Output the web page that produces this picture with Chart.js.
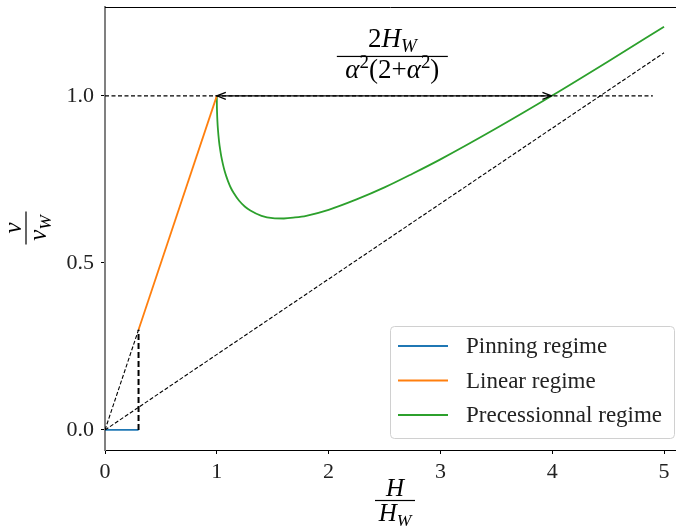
<!DOCTYPE html>
<html lang="en">
<head>
  <meta charset="UTF-8">
  <title>Domain wall velocity</title>
  <style>
    body { margin: 0; background: #fff; }
    #chartBox { width: 676px; height: 526px; }
  </style>
</head>
<body>
  <div id="chartBox">
    <canvas id="myChart" width="676" height="526"></canvas>
  </div>

  <script src="https://cdn.jsdelivr.net/npm/chart.js"></script>
  <script>
    // data (H/H_W, v/v_W)
    const pinH = [0, 0.3];
    const pinV = [0, 0];
    const linH = [0.3, 1];
    const linV = [0.3, 1];
    const precH = [1, 1.0005, 1.001, 1.002, 1.005, 1.01, 1.02, 1.03, 1.04, 1.055, 1.07, 1.085, 1.1, 1.125, 1.15, 1.2, 1.25, 1.3, 1.4, 1.5, 1.6, 1.7, 1.8, 2.0, 2.25, 2.5, 2.75, 3.0, 3.5, 4.0, 4.5, 5.0];
    const precV = [1, 0.976, 0.966, 0.953, 0.927, 0.900, 0.864, 0.839, 0.819, 0.795, 0.775, 0.759, 0.745, 0.725, 0.710, 0.686, 0.669, 0.657, 0.641, 0.634, 0.633, 0.636, 0.641, 0.659, 0.690, 0.726, 0.767, 0.810, 0.903, 1.001, 1.103, 1.207];
    const asymH = [0, 5];
    const asymV = [0, 1.129];
    const walkerH = [0, 4.9];
    const walkerV = [1, 1];
    const depDiagH = [0, 0.3];
    const depDiagV = [0, 0.3];
    const depVertH = [0.3, 0.3];
    const depVertV = [0, 0.3];
    const arrowH = [1, 3.993];
    const arrowV = [1, 1];
    const annotPos = [2.57, 1.118];
    const xTicks = [0, 1, 2, 3, 4, 5];
    const yTicks = [0, 0.5, 1.0];
    const legendLabels = ['Pinning regime', 'Linear regime', 'Precessionnal regime'];

    const SERIF = '"Liberation Serif", "DejaVu Serif", serif';

    function pts(xs, ys) {
      return xs.map((x, i) => ({ x: x, y: ys[i] }));
    }

    function dashed(xs, ys, w, dash) {
      return {
        data: pts(xs, ys),
        borderColor: '#000',
        borderWidth: w,
        borderDash: dash,
        pointRadius: 0,
        fill: false,
        isHelper: true
      };
    }

    // draw a run of text pieces: {t, i: italic, sub, sup}
    function richWidth(ctx, parts, size) {
      let w = 0;
      parts.forEach(p => {
        const s = (p.sub || p.sup) ? size * 0.7 : size;
        ctx.font = (p.i ? 'italic ' : '') + s + 'px ' + SERIF;
        w += ctx.measureText(p.t).width;
      });
      return w;
    }
    function drawRich(ctx, parts, cx, y, size) {
      let x = cx - richWidth(ctx, parts, size) / 2;
      ctx.textAlign = 'left';
      ctx.textBaseline = 'alphabetic';
      parts.forEach(p => {
        const s = (p.sub || p.sup) ? size * 0.7 : size;
        ctx.font = (p.i ? 'italic ' : '') + s + 'px ' + SERIF;
        let dy = 0;
        if (p.sub) dy = size * 0.2;
        if (p.sup) dy = -size * 0.38;
        ctx.fillText(p.t, x, y + dy);
        x += ctx.measureText(p.t).width;
      });
    }
    function drawFrac(ctx, num, den, cx, cy, size, barW) {
      ctx.fillStyle = '#000';
      const numSub = num.some(p => p.sub);
      drawRich(ctx, num, cx, cy - size * (numSub ? 0.36 : 0.2), size);
      drawRich(ctx, den, cx, cy + size * 0.8, size);
      ctx.fillRect(cx - barW / 2, cy - 0.6, barW, 1.2);
    }

    const extras = {
      id: 'extras',
      afterDatasetsDraw(chart) {
        const ctx = chart.ctx;
        const xs = chart.scales.x, ys = chart.scales.y;
        const a = chart.chartArea;
        ctx.save();

        // top spine
        ctx.strokeStyle = '#000';
        ctx.lineWidth = 1;
        ctx.beginPath();
        ctx.moveTo(a.left, a.top + 0.5);
        ctx.lineTo(a.right, a.top + 0.5);
        ctx.stroke();

        // double arrow
        const x0 = xs.getPixelForValue(arrowH[0]), x1 = xs.getPixelForValue(arrowH[1]);
        const yA = ys.getPixelForValue(arrowV[0]);
        ctx.strokeStyle = '#000';
        ctx.lineWidth = 1.2;
        ctx.beginPath();
        ctx.moveTo(x0, yA); ctx.lineTo(x1, yA);
        ctx.stroke();
        [[x0, 1], [x1, -1]].forEach(([px, d]) => {
          ctx.beginPath();
          ctx.moveTo(px + d * 9, yA - 3.5);
          ctx.lineTo(px, yA);
          ctx.lineTo(px + d * 9, yA + 3.5);
          ctx.stroke();
        });

        // annotation fraction
        const ax = xs.getPixelForValue(annotPos[0]), ay = ys.getPixelForValue(annotPos[1]);
        drawFrac(ctx,
          [{ t: '2' }, { t: 'H', i: true }, { t: 'W', i: true, sub: true }],
          [{ t: 'α', i: true }, { t: '2', sup: true }, { t: '(2+' }, { t: 'α', i: true }, { t: '2', sup: true }, { t: ')' }],
          ax, ay, 27, 111);

        // legend
        const lx = 390, ly = 326, lw = 284, lh = 112;
        ctx.fillStyle = 'rgba(255,255,255,0.85)';
        ctx.strokeStyle = '#d0d0d0';
        ctx.lineWidth = 1;
        ctx.beginPath();
        ctx.roundRect(lx + 0.5, ly + 0.5, lw, lh, 4);
        ctx.fill();
        ctx.stroke();
        const ds = chart.data.datasets.filter(d => !d.isHelper);
        ds.forEach((d, i) => {
          const yy = ly + 20 + i * 34.5;
          ctx.strokeStyle = d.borderColor;
          ctx.lineWidth = 1.8;
          ctx.beginPath();
          ctx.moveTo(lx + 8, yy); ctx.lineTo(lx + 58, yy);
          ctx.stroke();
          ctx.fillStyle = '#222';
          ctx.font = '23px ' + SERIF;
          ctx.textAlign = 'left';
          ctx.textBaseline = 'middle';
          ctx.fillText(d.label, lx + 76, yy + 1);
        });

        // axis titles
        drawFrac(ctx, [{ t: 'H', i: true }], [{ t: 'H', i: true }, { t: 'W', i: true, sub: true }], 395, 500.5, 25, 40);
        ctx.translate(26, 228);
        ctx.rotate(-Math.PI / 2);
        drawFrac(ctx, [{ t: 'v', i: true }], [{ t: 'v', i: true }, { t: 'W', i: true, sub: true }], 0, 0, 25, 33);
        ctx.restore();
      }
    };

    const data = {
      datasets: [
        dashed(walkerH, walkerV, 1.2, [4, 2.5]),
        dashed(asymH, asymV, 1.1, [4, 2]),
        dashed(depDiagH, depDiagV, 1.1, [4, 2]),
        dashed(depVertH, depVertV, 2, [6, 3]),
        { label: legendLabels[0], data: pts(pinH, pinV), borderColor: '#1f77b4', borderWidth: 1.8, pointRadius: 0 },
        { label: legendLabels[1], data: pts(linH, linV), borderColor: '#ff7f0e', borderWidth: 1.8, pointRadius: 0 },
        { label: legendLabels[2], data: pts(precH, precV), borderColor: '#2ca02c', borderWidth: 1.8, pointRadius: 0, cubicInterpolationMode: 'monotone' }
      ]
    };

    const config = {
      type: 'line',
      data,
      options: {
        responsive: false,
        animation: false,
        layout: { padding: { top: 7, right: 0, left: 0, bottom: 0 } },
        plugins: { legend: { display: false }, tooltip: { enabled: false } },
        scales: {
          x: {
            type: 'linear',
            min: 0,
            max: 5.107,
            afterBuildTicks: s => { s.ticks = xTicks.map(v => ({ value: v })); },
            afterFit: s => { s.height = 76; s.paddingLeft = 0; s.paddingRight = 0; },
            grid: { drawOnChartArea: false, drawTicks: true, tickLength: 4, color: '#000' },
            border: { color: '#000', width: 1 },
            ticks: { color: '#222', padding: 5, maxRotation: 0, font: { family: SERIF, size: 22 }, callback: v => String(v) }
          },
          y: {
            type: 'linear',
            min: -0.06,
            max: 1.266,
            afterBuildTicks: s => { s.ticks = yTicks.map(v => ({ value: v })); },
            afterFit: s => { s.width = 105; s.paddingTop = 0; s.paddingBottom = 0; },
            grid: { drawOnChartArea: false, drawTicks: true, tickLength: 4, color: '#000' },
            border: { color: '#808080', width: 2 },
            ticks: { color: '#222', padding: 7, font: { family: SERIF, size: 22 }, callback: v => v.toFixed(1) }
          }
        }
      },
      plugins: [extras]
    };

    const myChart = new Chart(document.getElementById('myChart'), config);
  </script>
</body>
</html>
